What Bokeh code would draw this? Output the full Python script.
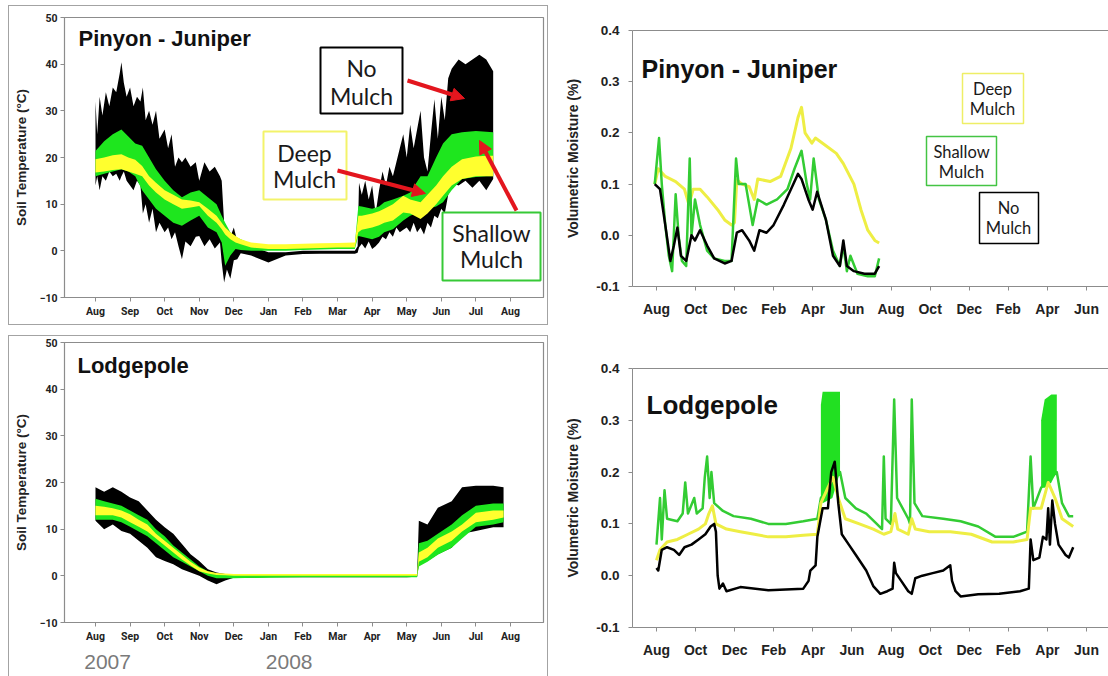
from bokeh.plotting import figure
from bokeh.layouts import row, column
from bokeh.models import (Range1d, FixedTicker, BoxAnnotation, Label, Arrow,
                          NormalHead, LinearAxis, NumeralTickFormatter,
                          InlineStyleSheet)
from bokeh.embed import file_html
from bokeh.resources import INLINE

# ---------------- data ----------------
T_MONTHS = ["Aug", "Sep", "Oct", "Nov", "Dec", "Jan", "Feb", "Mar", "Apr",
            "May", "Jun", "Jul", "Aug"]
T_YTICKS = [-10, 0, 10, 20, 30, 40, 50]
YEARS = ["2007", "2008"]
YEAR_POS = [0.35, 5.6]          # months after Aug 2007 where the year labels sit
M_MONTHS = ["Aug", "Oct", "Dec", "Feb", "Apr", "Jun",
            "Aug", "Oct", "Dec", "Feb", "Apr", "Jun"]
M_YTICKS = [-0.1, 0.0, 0.1, 0.2, 0.3, 0.4]

# Pinyon-Juniper soil temperature (months after 1 Aug 2007), daily min/max envelopes
pj_t_none_month = [0, 0.05, 0.12, 0.2, 0.3, 0.4, 0.5, 0.6, 0.7, 0.75,
                   0.82, 0.9, 1.0, 1.1, 1.2, 1.3, 1.37, 1.45, 1.55, 1.65,
                   1.75, 1.85, 2.0, 2.1, 2.2, 2.3, 2.4, 2.5, 2.6, 2.75,
                   2.9, 3.0, 3.15, 3.3, 3.45, 3.6, 3.65, 3.72, 3.8, 3.9,
                   4.0, 4.1, 4.2, 4.5, 5.0, 5.5, 6.0, 6.5, 7.0, 7.5,
                   7.58, 7.62, 7.7, 7.8, 7.9, 8.0, 8.1, 8.2, 8.3, 8.4,
                   8.5, 8.6, 8.7, 8.8, 8.9, 9.0, 9.1, 9.2, 9.3, 9.4,
                   9.5, 9.6, 9.7, 9.8, 9.9, 10.0, 10.1, 10.2, 10.3, 10.5,
                   10.7, 10.9, 11.1, 11.3, 11.5]
pj_t_none_hi = [32, 25, 33, 29, 34, 31, 35, 34, 38, 40.4,
                36, 33, 35, 31, 33, 32, 35, 28, 30, 27,
                30, 24, 26, 22, 25, 18, 20, 19, 20, 18,
                19, 15, 19, 17, 18, 16, 15, 6, 5, 3,
                5, 2, 1.8, 1, -0.3, -0.3, 0, 0, 0, 0,
                1, 14.6, 12, 15, 11, 14, 8, 13, 17, 14,
                18, 16, 19, 22, 25, 20, 27, 22, 26, 30,
                20, 17, 25, 32.5, 24, 33, 28, 37, 39, 41,
                40, 41, 42, 41, 38.5]
pj_t_none_lo = [14, 16, 13, 16, 15, 17, 16, 16.5, 15, 16,
                17, 15, 14, 13, 15, 14, 8, 10, 6, 9,
                4, 6, 4, 5, 2.5, 4, 1, -1.8, 2, 1,
                3, 3.2, 1, 2.5, 0.5, 1.8, -2.5, -6.8, -4, -6,
                -2, -1.8, -0.5, -1, -2.5, -1, -0.7, -0.6, -0.6, -0.6,
                -0.4, 0.7, 1.5, 0.5, 2, 0.4, 1, 1.8, 3, 2.5,
                4, 3, 5, 4, 4.5, 5, 4, 6, 4, 5,
                3.5, 6, 5, 7.5, 7, 9, 8, 12, 14.6, 14,
                15, 13.5, 15, 13, 15.4]
pj_t_month = [0, 0.25, 0.5, 0.75, 0.95, 1.15, 1.35, 1.55, 1.75, 2.0, 2.25, 2.5,
              2.75, 3.0, 3.25, 3.5, 3.65, 3.75, 3.9, 4.05, 4.2, 4.5, 5.0, 5.5,
              6.0, 6.5, 7.0, 7.5, 7.6, 7.7, 8.0, 8.2, 8.35, 8.6, 8.9, 9.1, 9.4,
              9.6, 9.85, 10.05, 10.3, 10.6, 11.0, 11.3, 11.5]
pj_t_shallow_hi = [21.4, 23.5, 25, 26, 24.5, 23, 22.5, 20, 17.5, 15, 13, 11.5,
                   12.5, 13, 11.5, 10, 7.5, 6, 4, 3, 2.5, 1.5, 0.8, 0.7, 1, 1.2,
                   1.3, 1.4, 9.6, 9.5, 9, 9.5, 10.4, 11, 11.8, 12.5, 16, 16, 20,
                   23, 25, 25.4, 25.7, 25.5, 25.4]
pj_t_shallow_lo = [16, 16.5, 17, 17.5, 17, 16, 13, 11, 9, 7.5, 6, 5.4, 6.5, 7.5,
                   5, 4, 1.8, -3.2, -1, 0.4, 0.2, 0, 0, 0, 0.2, 0.3, 0.4, 0.4,
                   3.2, 3, 2.5, 3, 4, 4.6, 6.5, 7.5, 8.5, 9, 9.5, 10.4, 13, 15.4,
                   15.8, 16, 16]
pj_t_deep_hi = [19.6, 20, 20.5, 20.7, 20, 19.5, 18.2, 16, 14.6, 13, 12, 11, 10.8,
                10.4, 9, 7.5, 6, 5, 4, 3.2, 2.5, 1.8, 1.4, 1.4, 1.5, 1.6, 1.7,
                1.8, 7.5, 7.5, 8, 8.5, 9, 10, 11.8, 11, 10.4, 12, 14, 16, 18,
                19.6, 20.2, 20.4, 20.4]
pj_t_deep_lo = [16.8, 17, 17.3, 17.5, 17, 16.5, 16, 14, 12.5, 11, 10, 9, 9.3, 9.6,
                7.5, 6, 4.6, 3.5, 2.5, 1.8, 1.4, 0.7, 0.4, 0.4, 0.5, 0.6, 0.7,
                0.7, 4, 4.5, 5, 5.5, 6, 6.5, 8.2, 8, 6.8, 8, 10, 11.8, 14, 15.4,
                16, 16, 16]

# Lodgepole soil temperature
lp_t_month = [0, 0.25, 0.5, 0.75, 1.0, 1.25, 1.5, 1.75, 2.0, 2.25, 2.5, 2.75, 3.0,
              3.25, 3.5, 3.75, 4.0, 5.0, 6.0, 7.0, 8.0, 9.0, 9.3, 9.35, 9.6, 9.9,
              10.3, 10.6, 11.0, 11.5, 11.8]
lp_t_none_hi = [19, 18, 19, 18, 16.8, 16, 14, 12, 10.4, 9, 6.8, 4.6, 3.2, 1.4,
                0.7, 0.4, 0.2, 0.2, 0.2, 0.2, 0.2, 0.2, 0.2, 11.8, 11, 14.6, 16,
                19, 19.3, 19.3, 19]
lp_t_none_lo = [11.8, 10, 11, 9.6, 9, 7.5, 6, 4, 3.2, 2.5, 1.4, 0.7, 0, -1, -1.8,
                -1, -0.4, -0.3, -0.3, -0.3, -0.3, -0.3, -0.2, 2.5, 3.2, 4.6, 6, 9,
                9.6, 10.4, 10.4]
lp_t_shallow_hi = [16.5, 16, 15.5, 15, 14, 13, 12, 10, 8.5, 6.5, 5, 3.5, 2, 1,
                   0.5, 0.3, 0.2, 0.2, 0.2, 0.2, 0.2, 0.2, 0.2, 7, 7.5, 9, 11, 13,
                   15, 15.5, 15.5]
lp_t_shallow_lo = [12, 12, 12, 11.5, 10.5, 9.5, 8.5, 7, 5.5, 4, 3, 2, 1, 0, -0.5,
                   -0.5, -0.5, -0.4, -0.3, -0.3, -0.3, -0.3, -0.3, 2, 3, 4.5, 6, 8,
                   10.5, 11, 11.5]
lp_t_deep_hi = [15, 14.8, 14.5, 14, 13.2, 12, 11, 9, 7.5, 6, 4.5, 3, 1.8, 1, 0.6,
                0.5, 0.4, 0.4, 0.4, 0.4, 0.4, 0.4, 0.4, 5, 6, 8, 9.5, 11, 13.5,
                14, 14]
lp_t_deep_lo = [13, 13, 13, 12.5, 11.5, 10.5, 9.5, 8, 6.5, 5, 3.5, 2.2, 1, 0.5,
                0.2, 0.1, 0, 0, 0, 0, 0, 0, 0, 3, 4, 6, 7.5, 9.5, 11.5, 12, 12.5]

# Pinyon-Juniper volumetric moisture
pj_m_deep_x = [-0.09, 0.09, 0.45, 0.98, 1.43, 1.66, 1.88, 2.23, 2.59, 3.13, 3.49,
               3.84, 3.99, 4.11, 4.38, 4.74, 5.0, 5.18, 5.81, 6.35, 6.88, 7.24,
               7.42, 7.6, 7.95, 8.13, 8.67, 9.2, 9.56, 10.1, 10.46, 10.81, 11.17,
               11.39]
pj_m_deep_y = [0.10, 0.13, 0.115, 0.105, 0.09, 0.06, 0.09, 0.09, 0.075, 0.05,
               0.03, 0.02, 0.025, 0.108, 0.10, 0.095, 0.07, 0.11, 0.105, 0.115,
               0.17, 0.23, 0.25, 0.20, 0.18, 0.19, 0.175, 0.16, 0.14, 0.10, 0.05,
               0.01, -0.01, -0.015]
pj_m_shallow_x = [-0.09, 0.13, 0.27, 0.45, 0.63, 0.8, 0.98, 1.13, 1.3, 1.52, 1.7,
                  1.79, 1.97, 2.23, 2.59, 2.95, 3.49, 3.84, 4.07, 4.2, 4.56, 4.92,
                  5.18, 5.63, 6.17, 6.7, 7.06, 7.42, 7.69, 7.86, 8.04, 8.31, 8.67,
                  9.03, 9.38, 9.56, 9.74, 9.92, 10.28, 10.81, 11.17, 11.39]
pj_m_shallow_y = [0.10, 0.19, 0.10, 0.02, -0.04, -0.07, 0.08, 0.0, -0.05, -0.06,
                  0.15, 0.0, 0.07, 0.02, -0.03, -0.045, -0.05, -0.05, 0.15, 0.10,
                  0.10, 0.02, 0.07, 0.06, 0.07, 0.09, 0.13, 0.165, 0.10, 0.07,
                  0.15, 0.07, 0.03, -0.03, -0.06, -0.02, -0.07, -0.04, -0.075,
                  -0.08, -0.08, -0.045]
pj_m_none_x = [-0.09, 0.18, 0.45, 0.71, 0.89, 1.07, 1.25, 1.52, 1.79, 1.97, 2.23,
               2.59, 2.95, 3.49, 3.84, 4.11, 4.38, 4.74, 5.0, 5.27, 5.63, 5.99,
               6.52, 6.88, 7.24, 7.42, 7.77, 7.99, 8.22, 8.67, 9.03, 9.38, 9.56,
               9.74, 10.1, 10.64, 11.17, 11.39]
pj_m_none_y = [0.10, 0.09, 0.02, -0.05, -0.02, 0.015, -0.04, -0.05, 0.0, -0.01,
               0.01, -0.02, -0.045, -0.055, -0.05, 0.005, 0.01, -0.01, -0.03, 0.01,
               0.005, 0.02, 0.06, 0.09, 0.12, 0.11, 0.07, 0.05, 0.085, 0.03, -0.04,
               -0.06, -0.01, -0.06, -0.07, -0.075, -0.075, -0.06]

# Lodgepole volumetric moisture
lp_m_shallow_x = [0, 0.18, 0.27, 0.41, 0.54, 1.07, 1.34, 1.47, 1.61, 1.93, 2.06,
                  2.36, 2.47, 2.59, 2.72, 2.81, 2.95, 3.4, 3.94, 4.83, 5.72, 6.62,
                  7.51, 8.23, 8.41, 9.39, 9.66, 10.2, 10.73, 11.27, 11.54, 11.63,
                  11.72, 11.99, 12.16, 12.31, 12.88, 12.97, 13.06, 13.2, 13.6,
                  14.67, 15.56, 16.46, 17.35, 18.25, 18.96, 19.14, 19.28, 19.68,
                  20.48, 20.75, 21.1, 21.32]
lp_m_shallow_y = [0.06, 0.15, 0.07, 0.165, 0.11, 0.105, 0.12, 0.18, 0.12, 0.15,
                  0.12, 0.13, 0.19, 0.23, 0.15, 0.20, 0.14, 0.125, 0.115, 0.11,
                  0.10, 0.10, 0.105, 0.11, 0.15, 0.20, 0.15, 0.13, 0.12, 0.10,
                  0.09, 0.23, 0.11, 0.10, 0.34, 0.15, 0.11, 0.10, 0.34, 0.14,
                  0.115, 0.11, 0.105, 0.095, 0.075, 0.075, 0.085, 0.23, 0.13,
                  0.17, 0.20, 0.14, 0.115, 0.115]
lp_m_shallow_band1_x = [8.41, 8.5, 9.0, 9.39]
lp_m_shallow_band1_lo = [0.15, 0.14, 0.15, 0.20]
lp_m_shallow_band1_hi = [0.33, 0.355, 0.355, 0.355]
lp_m_shallow_band2_x = [19.68, 19.86, 20.2, 20.48]
lp_m_shallow_band2_lo = [0.17, 0.17, 0.18, 0.20]
lp_m_shallow_band2_hi = [0.30, 0.34, 0.35, 0.35]
lp_m_deep_x = [0, 0.18, 0.54, 1.07, 1.61, 2.15, 2.5, 2.68, 2.86, 3.04, 3.58, 4.29,
               5.01, 5.72, 6.62, 7.51, 8.23, 8.41, 8.77, 9.03, 9.3, 9.66, 10.38,
               11.09, 11.63, 11.99, 12.2, 12.34, 12.88, 13.06, 13.24, 13.96,
               15.03, 16.1, 17.17, 18.25, 18.96, 19.14, 19.68, 20.04, 20.39,
               20.75, 21.32]
lp_m_deep_y = [0.03, 0.05, 0.065, 0.07, 0.08, 0.09, 0.10, 0.12, 0.135, 0.10, 0.09,
               0.085, 0.08, 0.075, 0.075, 0.078, 0.08, 0.14, 0.17, 0.19, 0.15,
               0.11, 0.10, 0.09, 0.08, 0.085, 0.12, 0.09, 0.08, 0.11, 0.09, 0.085,
               0.085, 0.08, 0.065, 0.065, 0.07, 0.13, 0.13, 0.18, 0.15, 0.11, 0.095]
lp_m_none_x = [0, 0.09, 0.27, 0.54, 0.89, 1.16, 1.43, 1.79, 2.15, 2.5, 2.77, 2.95,
               3.04, 3.13, 3.22, 3.4, 3.58, 4.29, 5.72, 7.51, 7.78, 7.87, 8.14,
               8.23, 8.5, 8.77, 8.94, 9.12, 9.3, 9.48, 9.84, 10.2, 10.73, 11.09,
               11.45, 11.81, 12.08, 12.16, 12.25, 12.52, 12.88, 13.06, 13.24, 13.6,
               14.13, 14.67, 15.03, 15.12, 15.3, 15.56, 16.46, 17.53, 18.6, 19.05,
               19.14, 19.28, 19.59, 19.77, 19.95, 20.04, 20.13, 20.25, 20.39,
               20.57, 20.93, 21.1, 21.32]
lp_m_none_y = [0.015, 0.01, 0.05, 0.055, 0.05, 0.04, 0.055, 0.06, 0.07, 0.08,
               0.095, 0.10, 0.085, 0.0, -0.025, -0.015, -0.03, -0.022, -0.028,
               -0.025, -0.01, 0.01, 0.02, 0.075, 0.13, 0.13, 0.2, 0.22, 0.14, 0.08,
               0.06, 0.04, 0.01, -0.02, -0.035, -0.03, -0.025, 0.025, 0.005, -0.01,
               -0.03, -0.035, -0.005, 0.0, 0.005, 0.01, 0.02, -0.01, -0.03, -0.04,
               -0.036, -0.035, -0.03, -0.025, 0.07, 0.03, 0.035, 0.075, 0.07,
               0.13, 0.06, 0.145, 0.10, 0.06, 0.04, 0.035, 0.055]

# ---------------- styles ----------------
C_NONE = "#000000"
C_SHALLOW_T = "#1ee61e"
C_DEEP_T = "#ffff2e"
C_SHALLOW_M = "#33cc33"
C_DEEP_M = "#eeee44"
C_RED = "#e3161e"
GRAY = "#8c8c8c"
FONT = "Liberation Sans"
TICKFONT = "Roboto"
ANN_FONT = "Lato"


# pixel -> data helpers for placing annotations
def fx_t(px):
    return (px - 95) / 34.58


def fy_tl(py):
    return 50 - (py - 17) / 4.667


def fy_bl(py):
    return 50 - (py - 342) / 4.667


def fx_m(px):
    return (px - 656) / 19.545


def fy_tr(py):
    return 0.4 - (py - 30) / 512.0


def fy_br(py):
    return 0.4 - (py - 368) / 518.0


def panel_border(p, h):
    css = (":host::after { content: ''; position: absolute; left: 8px; top: 5px; "
           "width: 540px; height: %dpx; box-sizing: border-box; "
           "border: 1.5px solid #a3a3a3; pointer-events: none; }" % h)
    p.stylesheets = [InlineStyleSheet(css=css)]


def temp_fig(height, top, bottom):
    p = figure(width=556, height=height, x_range=Range1d(-0.896, 12.955),
               y_range=Range1d(-10, 50), output_backend="svg",
               toolbar_location=None, min_border_left=64, min_border_right=13,
               min_border_top=top, min_border_bottom=bottom,
               background_fill_color="white", border_fill_color="white")
    p.grid.visible = False
    p.outline_line_color = GRAY
    p.outline_line_width = 1.2
    p.xaxis.ticker = FixedTicker(ticks=list(range(len(T_MONTHS))))
    p.xaxis.major_label_overrides = {i: m for i, m in enumerate(T_MONTHS)}
    p.yaxis.ticker = FixedTicker(ticks=T_YTICKS)
    for ax in [p.below[0], p.left[0]]:
        ax.axis_line_color = GRAY
        ax.major_tick_line_color = GRAY
        ax.major_tick_out = 4
        ax.major_tick_in = 0
        ax.minor_tick_line_color = None
        ax.major_label_text_font = TICKFONT
        ax.major_label_text_font_style = "bold"
        ax.major_label_text_color = "#222222"
        ax.major_label_standoff = 3
    p.below[0].major_label_text_font_size = "10.5px"
    p.left[0].major_label_text_font_size = "10.5px"
    p.left[0].axis_label = "Soil Temperature (°C)"
    p.left[0].axis_label_text_font = FONT
    p.left[0].axis_label_text_font_size = "13.5px"
    p.left[0].axis_label_text_font_style = "bold"
    p.left[0].axis_label_text_color = "#222222"
    p.left[0].axis_label_standoff = 8
    return p


def moist_fig(height, top, bottom):
    p = figure(width=552, height=height, x_range=Range1d(-1.228, 23.126),
               y_range=Range1d(-0.1, 0.4), output_backend="svg",
               toolbar_location=None, min_border_left=76, min_border_right=0,
               min_border_top=top, min_border_bottom=bottom,
               background_fill_color="white", border_fill_color="white")
    p.grid.visible = False
    p.outline_line_color = None
    bx = p.below[0]
    bx.ticker = FixedTicker(ticks=[2 * i for i in range(len(M_MONTHS))])
    bx.major_label_overrides = {2 * i: m for i, m in enumerate(M_MONTHS)}
    ly = p.left[0]
    ly.ticker = FixedTicker(ticks=M_YTICKS)
    ly.formatter = NumeralTickFormatter(format="0.0")
    for ax in [bx, ly]:
        ax.axis_line_color = GRAY
        ax.major_tick_line_color = GRAY
        ax.major_tick_out = 4
        ax.major_tick_in = 0
        ax.minor_tick_line_color = None
        ax.major_label_text_font = FONT
        ax.major_label_text_font_style = "bold"
        ax.major_label_text_color = "#222222"
    bx.major_label_text_font_size = "14px"
    bx.major_label_standoff = 10
    ly.major_label_text_font_size = "13.5px"
    ly.major_label_standoff = 9
    ly.axis_label = "Volumetric Moisture (%)"
    ly.axis_label_text_font = FONT
    ly.axis_label_text_font_size = "14px"
    ly.axis_label_text_font_style = "bold"
    ly.axis_label_text_color = "#222222"
    ly.axis_label_standoff = 12
    top_ax = LinearAxis(ticker=FixedTicker(ticks=[]), axis_line_color=GRAY,
                        major_tick_line_color=None, minor_tick_line_color=None)
    p.add_layout(top_ax, "above")
    return p


def label_box(p, fx, fy, l, r, t, b, color, lw, lines, size):
    p.add_layout(BoxAnnotation(left=fx(l), right=fx(r), top=fy(t), bottom=fy(b),
                               fill_color="white", fill_alpha=1, line_color=color,
                               line_alpha=1, line_width=lw))
    for (tx, ty, txt) in lines:
        p.add_layout(Label(x=fx(tx), y=fy(ty), text=txt, text_align="center",
                           text_baseline="middle", text_font=ANN_FONT,
                           text_font_size=size, text_color="#1a1a1a"))


def title(p, fx, fy, px, py, txt, size):
    p.add_layout(Label(x=fx(px), y=fy(py), text=txt, text_align="left",
                       text_baseline="middle", text_font=FONT,
                       text_font_style="bold", text_font_size=size,
                       text_color="#111111"))


def arrow(p, fx, fy, x0, y0, x1, y1):
    p.add_layout(Arrow(x_start=fx(x0), y_start=fy(y0), x_end=fx(x1), y_end=fy(y1),
                       line_color=C_RED, line_width=4,
                       end=NormalHead(size=13, fill_color=C_RED, line_color=C_RED)))


# ---------- top-left: Pinyon-Juniper temperature ----------
p1 = temp_fig(330, 17, 33)
p1.varea(x=pj_t_none_month, y1=pj_t_none_lo, y2=pj_t_none_hi, fill_color=C_NONE)
p1.varea(x=pj_t_month, y1=pj_t_shallow_lo, y2=pj_t_shallow_hi, fill_color=C_SHALLOW_T)
p1.varea(x=pj_t_month, y1=pj_t_deep_lo, y2=pj_t_deep_hi, fill_color=C_DEEP_T)
panel_border(p1, 320)
title(p1, fx_t, fy_tl, 78, 38, "Pinyon - Juniper", "22px")
label_box(p1, fx_t, fy_tl, 320, 402, 47, 113, "#000000", 2,
          [(361, 68, "No"), (361, 96, "Mulch")], "23px")
label_box(p1, fx_t, fy_tl, 263, 346, 131, 199, "#f3f36a", 2,
          [(304, 153, "Deep"), (304, 179, "Mulch")], "23px")
label_box(p1, fx_t, fy_tl, 442, 540, 212, 280, "#36c936", 2,
          [(491, 233, "Shallow"), (491, 259, "Mulch")], "23px")
arrow(p1, fx_t, fy_tl, 407, 80, 464, 98)
arrow(p1, fx_t, fy_tl, 337, 170, 425, 193)
arrow(p1, fx_t, fy_tl, 516, 210, 479, 140)

# ---------- bottom-left: Lodgepole temperature ----------
p3 = temp_fig(346, 12, 54)
p3.varea(x=lp_t_month, y1=lp_t_none_lo, y2=lp_t_none_hi, fill_color=C_NONE)
p3.varea(x=lp_t_month, y1=lp_t_shallow_lo, y2=lp_t_shallow_hi, fill_color=C_SHALLOW_T)
p3.varea(x=lp_t_month, y1=lp_t_deep_lo, y2=lp_t_deep_hi, fill_color=C_DEEP_T)
panel_border(p3, 360)
title(p3, fx_t, fy_bl, 77, 365, "Lodgepole", "22px")
year_ax = LinearAxis(ticker=FixedTicker(ticks=YEAR_POS),
                     major_label_overrides=dict(zip(YEAR_POS, YEARS)),
                     axis_line_color=None, major_tick_line_color=None,
                     minor_tick_line_color=None, major_label_standoff=3,
                     major_label_text_font=FONT, major_label_text_font_size="21px",
                     major_label_text_color="#7a7a7a")
p3.add_layout(year_ax, "below")

# ---------- top-right: Pinyon-Juniper moisture ----------
p2 = moist_fig(330, 30, 44)
p2.line(pj_m_deep_x, pj_m_deep_y, line_color=C_DEEP_M, line_width=3, line_join="round")
p2.line(pj_m_shallow_x, pj_m_shallow_y, line_color=C_SHALLOW_M, line_width=2.5, line_join="round")
p2.line(pj_m_none_x, pj_m_none_y, line_color=C_NONE, line_width=2.5, line_join="round")
title(p2, fx_m, fy_tr, 641, 68, "Pinyon - Juniper", "25px")
label_box(p2, fx_m, fy_tr, 962, 1023, 73, 123, "#eeee66", 1.5,
          [(992, 88, "Deep"), (992, 108, "Mulch")], "16.5px")
label_box(p2, fx_m, fy_tr, 926, 996, 136, 185, "#44c444", 1.5,
          [(961, 151, "Shallow"), (961, 171, "Mulch")], "16.5px")
label_box(p2, fx_m, fy_tr, 979, 1038, 192, 243, "#000000", 1.5,
          [(1008, 207, "No"), (1008, 227, "Mulch")], "16.5px")

# ---------- bottom-right: Lodgepole moisture ----------
p4 = moist_fig(346, 38, 49)
p4.line(lp_m_shallow_x, lp_m_shallow_y, line_color=C_SHALLOW_M, line_width=2.5, line_join="round")
p4.varea(x=lp_m_shallow_band1_x, y1=lp_m_shallow_band1_lo, y2=lp_m_shallow_band1_hi,
         fill_color="#22e022")
p4.varea(x=lp_m_shallow_band2_x, y1=lp_m_shallow_band2_lo, y2=lp_m_shallow_band2_hi,
         fill_color="#22e022")
p4.line(lp_m_deep_x, lp_m_deep_y, line_color=C_DEEP_M, line_width=3, line_join="round")
p4.line(lp_m_none_x, lp_m_none_y, line_color=C_NONE, line_width=2.5, line_join="round")
title(p4, fx_m, fy_br, 646, 404, "Lodgepole", "26px")

layout = row(column(p1, p3), column(p2, p4))
open("out.html", "w").write(file_html(layout, INLINE))
